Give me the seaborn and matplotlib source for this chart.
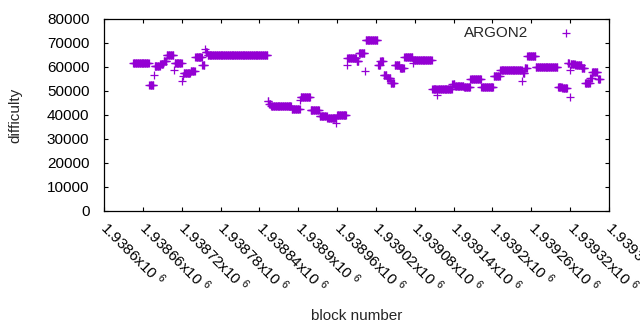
import numpy as np
import pandas as pd
import matplotlib
matplotlib.use('Agg')
import matplotlib.pyplot as plt
import seaborn as sns

# difficulty runs: first block, last block, difficulty
base_block = 1938600
run_first = [45, 70, 77, 78, 87, 92, 97, 108, 109, 121, 122, 123, 134, 141, 152, 156, 157, 160,
             253, 255, 258, 290, 303, 304, 319, 333, 345, 359, 360, 375, 376, 390, 394, 403, 404,
             423, 427, 432, 437, 443, 449, 457, 464, 477, 478, 507, 515, 516, 538, 542, 556, 566,
             583, 602, 612, 646, 647, 650, 654, 667, 701, 708, 716, 719, 720, 721, 728, 738, 743,
             751, 754, 763]
run_last = [69, 76, 77, 86, 91, 96, 107, 108, 120, 121, 122, 133, 140, 151, 155, 156, 159, 252,
            254, 257, 289, 302, 303, 318, 332, 344, 358, 359, 374, 375, 389, 393, 402, 403, 422,
            426, 431, 436, 442, 448, 456, 463, 476, 477, 506, 514, 515, 537, 541, 555, 565, 582,
            601, 611, 645, 646, 649, 653, 666, 700, 707, 715, 718, 719, 720, 727, 737, 742, 750,
            753, 762, 766]
run_value = [61600, 52700, 56600, 60300, 61300, 62400, 64900, 58700, 61500, 54000, 56300, 57300,
             58200, 64000, 60800, 67500, 66400, 64900,
             46000, 44600, 43600, 42700, 46200, 47400, 42000, 39600, 38600, 36700, 40200, 60800,
             63600, 62300, 65800, 58400, 71100,
             60800, 62500, 56700, 55300, 53200, 60800, 59400, 64000, 61500, 62800, 50700, 48400,
             50700, 53000, 52000, 51500, 54900,
             51500, 56400, 58750, 54200, 57400, 59400, 64600, 59900, 51800, 51100, 61500, 47400,
             58700, 61300, 60800, 59400, 53200,
             55300, 58000, 54900]

x_ticks = np.arange(1938600, 1939381, 60)

blocks = np.concatenate([np.arange(a, b + 1) for a, b in zip(run_first, run_last)]) + base_block
diffs = np.concatenate([np.full(b - a + 1, v) for a, b, v in zip(run_first, run_last, run_value)])
df = pd.DataFrame({'block': blocks, 'difficulty': diffs})

sns.set_style('ticks')
plt.rcParams['font.family'] = ['Liberation Sans', 'DejaVu Sans']
plt.rcParams['mathtext.fontset'] = 'custom'
plt.rcParams['mathtext.rm'] = 'Liberation Sans'
plt.rcParams['mathtext.default'] = 'regular'
plt.rcParams['font.size'] = 11

fig = plt.figure(figsize=(6.4, 3.3), dpi=100)
ax = fig.add_axes([104 / 640, 1 - 211 / 330, 505 / 640, 192 / 330])

sns.scatterplot(data=df, x='block', y='difficulty', marker='+', s=34, color='#9400d3',
                linewidth=0.9, label='ARGON2', ax=ax)

ax.set_xlim(1938600, 1939380)
ax.set_ylim(0, 80000)
ax.set_xticks(x_ticks)
ax.set_xticklabels([f'{v / 1e6:g}x10 $^{{6}}$' for v in x_ticks], rotation=-45,
                   ha='left', va='center', rotation_mode='anchor')
ax.set_yticks(np.arange(0, 80001, 10000))
ax.tick_params(direction='in', length=3, width=0.8, top=True, right=True, colors='black')
ax.tick_params(axis='x', pad=9.5)
ax.tick_params(axis='y', pad=10.5)
for s in ax.spines.values():
    s.set_linewidth(0.9)
    s.set_color('black')

ax.set_xlabel('block number')
ax.set_ylabel('difficulty')
ax.xaxis.set_label_coords(0.5, -(315.5 - 211) / 192)
ax.xaxis.label.set_va('center')
ax.yaxis.set_label_coords((15 - 104) / 505, 0.5)
ax.yaxis.label.set_va('center')

ax.legend(loc='upper right', markerfirst=False, frameon=False, borderpad=0, borderaxespad=0,
          handlelength=2.0, handletextpad=1.5, bbox_to_anchor=(0.946, 0.965))

fig.savefig('out.png', dpi=100)
plt.close(fig)
